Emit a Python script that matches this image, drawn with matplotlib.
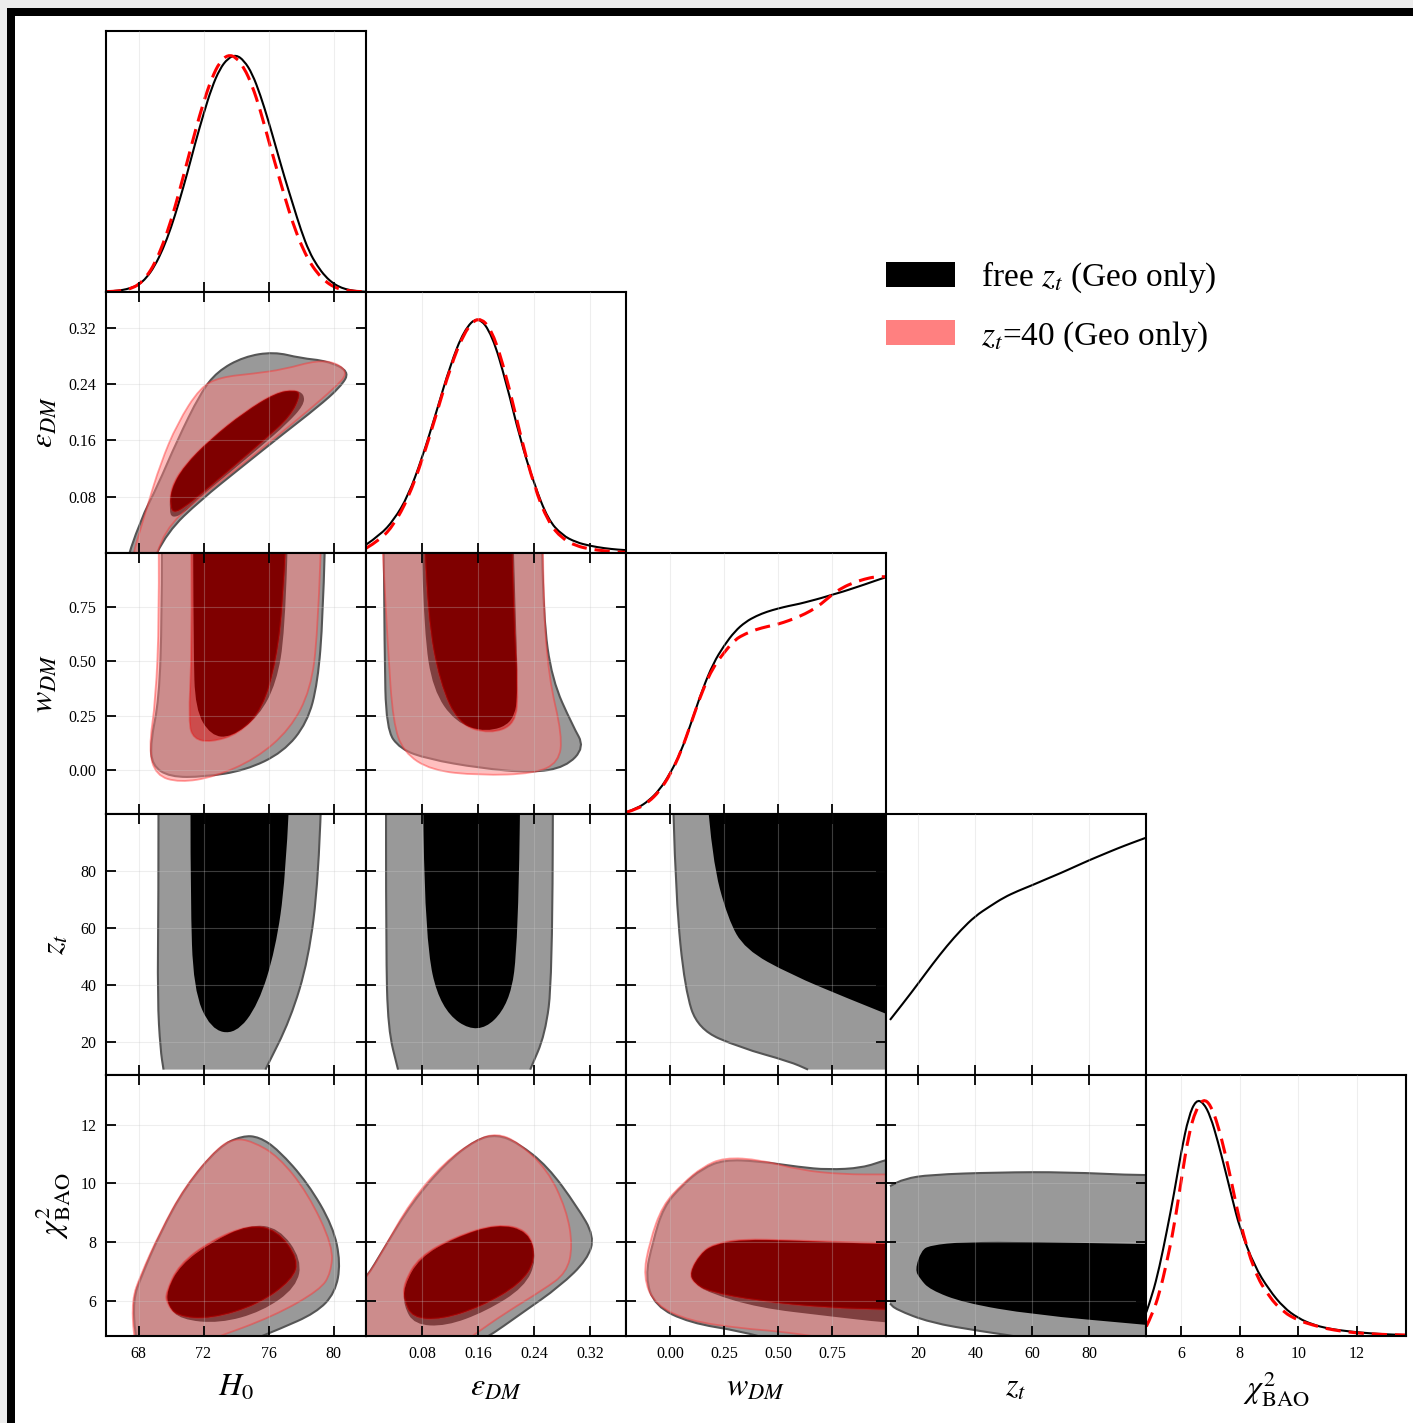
import numpy as np
import matplotlib
matplotlib.use("Agg")
import matplotlib.pyplot as plt
from matplotlib.path import Path
from matplotlib.patches import PathPatch, Patch, Rectangle

plt.rcParams['font.family'] = 'serif'
plt.rcParams['font.serif'] = ['Liberation Serif', 'DejaVu Serif']
plt.rcParams['mathtext.fontset'] = 'stix'

# parameters
labels = [r'$H_0$', r'$\varepsilon_{DM}$', r'$w_{DM}$', r'$z_t$', r'$\chi^2_{\rm BAO}$']
limits = [(66.0, 82.0), (0.0, 0.371), (-0.204, 1.0), (8.6, 100.0), (4.79, 13.69)]
ticks = [[68, 72, 76, 80], [0.08, 0.16, 0.24, 0.32], [0.0, 0.25, 0.50, 0.75],
         [20, 40, 60, 80], [6, 8, 10, 12]]
tick_fmt = ['{:.0f}', '{:.2f}', '{:.2f}', '{:.0f}', '{:.0f}']
legend_labels = [r'free $z_t$ (Geo only)', r'$z_t$=40 (Geo only)']

# 1D marginals (normalised to peak = 1)
H0_GRID = [66, 66.5, 67, 67.5, 68, 68.5, 69, 69.5, 70, 70.5, 71, 71.5, 72, 72.5, 73, 73.5, 74,
           74.5, 75, 75.5, 76, 76.5, 77, 77.5, 78, 78.5, 79, 79.5, 80, 80.5, 81, 81.5, 82]
H0_FREE = [0.002, 0.004, 0.008, 0.016, 0.03, 0.06, 0.11, 0.18, 0.27, 0.38, 0.50, 0.63, 0.75, 0.86, 0.94,
           0.985, 1.0, 0.975, 0.92, 0.83, 0.72, 0.60, 0.48, 0.37, 0.26, 0.17, 0.11, 0.065, 0.035, 0.017,
           0.008, 0.003, 0.001]
H0_FIX = [0.001, 0.003, 0.006, 0.014, 0.03, 0.065, 0.12, 0.20, 0.30, 0.42, 0.55, 0.68, 0.80, 0.90, 0.97,
          1.0, 0.99, 0.945, 0.87, 0.765, 0.64, 0.52, 0.40, 0.29, 0.20, 0.13, 0.08, 0.045, 0.022, 0.01,
          0.005, 0.002, 0.001]

EPS_GRID = [0.00, 0.02, 0.04, 0.06, 0.08, 0.10, 0.12, 0.14, 0.16, 0.18, 0.20, 0.22, 0.24, 0.26, 0.28,
            0.30, 0.32, 0.34, 0.36, 0.372]
EPS_FREE = [0.035, 0.075, 0.14, 0.24, 0.40, 0.59, 0.79, 0.94, 1.0, 0.92, 0.72, 0.48, 0.29, 0.14, 0.075,
            0.045, 0.030, 0.020, 0.014, 0.012]
EPS_FIX = [0.02, 0.055, 0.12, 0.23, 0.39, 0.58, 0.78, 0.93, 1.0, 0.94, 0.75, 0.50, 0.28, 0.13, 0.06,
           0.03, 0.016, 0.009, 0.004, 0.003]

W_GRID = [-0.20, -0.15, -0.10, -0.05, 0.00, 0.05, 0.10, 0.15, 0.20, 0.25, 0.30, 0.35, 0.40, 0.45, 0.50,
          0.55, 0.60, 0.65, 0.70, 0.75, 0.80, 0.85, 0.90, 0.95, 1.00]
W_FREE = [0.008, 0.025, 0.055, 0.10, 0.17, 0.26, 0.39, 0.525, 0.635, 0.71, 0.77, 0.81, 0.835, 0.853, 0.866,
          0.877, 0.886, 0.898, 0.91, 0.924, 0.937, 0.952, 0.967, 0.983, 0.998]
W_FIX = [0.008, 0.022, 0.05, 0.095, 0.165, 0.26, 0.39, 0.52, 0.62, 0.68, 0.735, 0.76, 0.778, 0.79, 0.80,
         0.815, 0.833, 0.855, 0.885, 0.925, 0.955, 0.975, 0.99, 1.0, 1.0]

ZT_GRID = [10, 15, 20, 25, 30, 35, 40, 45, 50, 55, 60, 65, 70, 75, 80, 85, 90, 95, 100]
ZT_FREE = [0.232, 0.308, 0.387, 0.468, 0.544, 0.612, 0.67, 0.71, 0.748, 0.776, 0.80, 0.826, 0.851,
           0.878, 0.905, 0.93, 0.955, 0.978, 1.0]

CHI_GRID = [4.8, 5.0, 5.25, 5.5, 5.75, 6.0, 6.25, 6.5, 6.75, 7.0, 7.25, 7.5, 7.75, 8.0, 8.5, 9.0, 9.5,
            10.0, 10.5, 11.0, 11.5, 12.0, 12.5, 13.0, 13.7]
CHI_FREE = [0.10, 0.17, 0.29, 0.44, 0.60, 0.78, 0.925, 0.995, 0.985, 0.925, 0.82, 0.70, 0.575, 0.455,
            0.295, 0.195, 0.12, 0.075, 0.048, 0.032, 0.023, 0.016, 0.011, 0.007, 0.004]
CHI_FIX = [0.04, 0.09, 0.18, 0.31, 0.46, 0.66, 0.85, 0.955, 1.0, 0.975, 0.89, 0.77, 0.63, 0.48,
           0.27, 0.165, 0.10, 0.066, 0.046, 0.03, 0.02, 0.013, 0.009, 0.006, 0.004]

# 2D contour outlines (68% / 95%), (x, y) in data units
H0_EPS_FREE_OUT = [(67.0, -0.03), (68.12, 0.047), (69.15, 0.094), (70.38, 0.160), (71.81, 0.227), (72.84, 0.258),
                   (74.48, 0.279), (76.33, 0.286), (77.97, 0.277), (79.61, 0.273), (81.0, 0.258), (80.43, 0.236),
                   (79.0, 0.207), (76.94, 0.170), (74.28, 0.121), (71.81, 0.075), (69.77, 0.030), (68.5, -0.03)]
H0_EPS_FREE_IN = [(69.9, 0.060), (69.98, 0.090), (70.8, 0.124), (72.43, 0.162), (74.48, 0.200), (76.45, 0.228),
                  (77.6, 0.232), (78.2, 0.226), (78.17, 0.210), (77.15, 0.184), (75.51, 0.151), (73.66, 0.115),
                  (71.81, 0.080), (70.69, 0.055), (70.07, 0.050)]
H0_EPS_FIX_OUT = [(67.3, -0.03), (68.53, 0.066), (69.35, 0.127), (70.38, 0.184), (71.81, 0.236), (73.05, 0.250),
                  (75.09, 0.255), (76.94, 0.261), (79.0, 0.274), (80.23, 0.270), (80.9, 0.255), (80.02, 0.234),
                  (78.58, 0.205), (76.53, 0.166), (74.07, 0.120), (71.61, 0.076), (69.56, 0.032), (68.8, -0.03)]
H0_EPS_FIX_IN = [(69.95, 0.066), (70.0, 0.093), (70.8, 0.124), (72.43, 0.162), (74.48, 0.200), (76.45, 0.228),
                 (77.6, 0.232), (78.0, 0.226), (77.35, 0.194), (75.71, 0.160), (73.86, 0.123), (72.02, 0.087),
                 (70.79, 0.064), (70.17, 0.057)]

H0_W_FREE_OUT = [(69.44, 1.3), (69.44, 1.3), (69.44, 0.705), (69.27, 0.324), (68.74, 0.127), (68.84, 0.020),
                 (69.91, -0.033), (72.02, -0.033), (74.57, -0.003), (76.91, 0.081), (78.39, 0.218), (79.03, 0.401),
                 (79.35, 0.705), (79.56, 1.3), (79.56, 1.3)]
H0_W_FREE_IN = [(71.35, 1.3), (71.35, 1.3), (71.39, 0.553), (71.49, 0.279), (72.45, 0.157), (73.72, 0.149),
                (75.42, 0.248), (76.49, 0.401), (77.01, 0.629), (77.29, 1.3), (77.29, 1.3)]
H0_W_FIX_OUT = [(69.22, 1.3), (69.22, 1.3), (69.27, 0.705), (69.06, 0.324), (68.63, 0.096), (69.06, -0.026),
                (70.54, -0.059), (72.66, -0.033), (75.21, 0.050), (77.33, 0.187), (78.6, 0.370), (79.03, 0.629),
                (79.35, 1.3), (79.35, 1.3)]
H0_W_FIX_IN = [(71.22, 1.3), (71.22, 1.3), (71.29, 0.553), (71.07, 0.218), (71.39, 0.142), (72.45, 0.127),
               (74.15, 0.165), (75.64, 0.279), (76.49, 0.507), (76.91, 0.782), (77.22, 1.3), (77.22, 1.3)]

EPS_W_FREE_OUT = [(0.0249, 1.3), (0.0249, 1.3), (0.0264, 0.553), (0.0289, 0.187), (0.0486, 0.096),
                  (0.088, 0.050), (0.1619, 0.008), (0.2357, -0.014), (0.285, 0.012), (0.312, 0.104),
                  (0.2949, 0.203), (0.2653, 0.416), (0.253, 0.705), (0.2496, 1.3), (0.2496, 1.3)]
EPS_W_FREE_IN = [(0.0771, 1.3), (0.0771, 1.3), (0.083, 0.629), (0.0954, 0.370), (0.1274, 0.218),
                 (0.1717, 0.172), (0.2111, 0.218), (0.217, 0.370), (0.2136, 0.705), (0.2087, 1.3), (0.2087, 1.3)]
EPS_W_FIX_OUT = [(0.019, 1.3), (0.019, 1.3), (0.0313, 0.553), (0.0387, 0.218), (0.0534, 0.081), (0.0929, -0.003),
                 (0.1619, -0.026), (0.2407, -0.018), (0.2751, 0.035), (0.2801, 0.157), (0.2604, 0.431),
                 (0.253, 0.782), (0.252, 1.3), (0.252, 1.3)]
EPS_W_FIX_IN = [(0.0806, 1.3), (0.0806, 1.3), (0.088, 0.705), (0.1053, 0.401), (0.1323, 0.210),
                (0.1767, 0.165), (0.2136, 0.210), (0.217, 0.370), (0.2111, 0.705), (0.2071, 1.3), (0.2071, 1.3)]

# contours cut by the z_t prior: the last -> first segment is the cut (no edge line there)
H0_ZT_FREE_OUT = [(75.81, 10.5), (75.81, 10.5), (77.35, 28.1), (78.46, 49.1), (79.08, 77.2), (79.38, 130),
                  (79.38, 130), (69.23, 130), (69.23, 130), (69.23, 70.2), (69.17, 35.1), (69.35, 17.5),
                  (69.54, 10.5), (69.54, 10.5)]
H0_ZT_FREE_IN = [(71.2, 130), (71.2, 130), (71.2, 70.2), (71.38, 38.6), (72.43, 24.6), (73.97, 22.8),
                 (75.38, 33.3), (76.43, 52.6), (77.05, 77.2), (77.48, 130), (77.48, 130)]

EPS_ZT_FREE_OUT = [(0.2343, 10.5), (0.2343, 10.5), (0.2557, 22.8), (0.2657, 42.1), (0.2671, 130), (0.2671, 130),
                   (0.0286, 130), (0.0286, 130), (0.0286, 52.6), (0.0314, 24.6), (0.0457, 10.5), (0.0457, 10.5)]
EPS_ZT_FREE_IN = [(0.08, 130), (0.08, 130), (0.0843, 56.1), (0.1057, 31.6), (0.16, 22.5), (0.2057, 33.3),
                  (0.2171, 56.1), (0.2214, 130), (0.2214, 130)]

W_ZT_FREE_OUT = [(1.3, 10.5), (1.3, 10.5), (1.3, 130), (1.3, 130), (0.005, 130), (0.005, 130), (0.027, 70.2),
                 (0.069, 38.6), (0.129, 24.6), (0.324, 18.2), (0.555, 13.3), (0.639, 10.5), (0.639, 10.5)]
W_ZT_FREE_IN = [(0.148, 130), (0.148, 130), (0.194, 84.2), (0.268, 63.2), (0.347, 52.6), (0.555, 43.9),
                (0.833, 35.1), (1.065, 28.1), (1.3, 20.6), (1.3, 20.6), (1.3, 130), (1.3, 130)]

H0_CHI_FREE_OUT = [(68.05, 4.4), (67.8, 4.78), (67.67, 6.03), (68.18, 6.83), (69.35, 8.31), (70.9, 9.89),
                   (72.98, 11.26), (74.4, 11.62), (75.43, 11.58), (76.6, 11.14), (78.41, 10.01), (79.97, 8.53),
                   (80.44, 7.28), (80.1, 6.26), (78.93, 5.58), (76.6, 5.01), (75.05, 4.67), (74.0, 4.4)]
H0_CHI_FREE_IN = [(69.75, 6.37), (70.6, 7.22), (72.45, 7.98), (74.79, 8.6), (76.65, 8.48), (78.05, 7.40),
                  (77.72, 6.45), (75.6, 5.62), (72.98, 5.22), (70.6, 5.35), (69.8, 5.81)]
H0_CHI_FIX_OUT = [(67.9, 4.4), (67.7, 4.78), (67.6, 6.03), (68.1, 6.83), (69.3, 8.31), (70.85, 9.89),
                  (72.85, 11.2), (73.9, 11.53), (75.0, 11.43), (76.6, 10.92), (78.41, 9.67), (79.97, 7.85),
                  (79.84, 6.94), (79.19, 6.37), (76.34, 5.47), (72.45, 4.67), (71.0, 4.4)]
H0_CHI_FIX_IN = [(69.68, 6.26), (70.47, 7.22), (72.45, 8.04), (74.79, 8.58), (76.52, 8.42), (77.87, 7.40),
                 (77.46, 6.7), (75.35, 5.86), (72.45, 5.37), (70.35, 5.46), (69.73, 5.92)]

EPS_CHI_FREE_OUT = [(-0.03, 4.4), (-0.03, 6.0), (0.0, 6.75), (0.025, 7.75), (0.066, 9.35), (0.114, 10.69),
                    (0.157, 11.49), (0.187, 11.66), (0.217, 11.37), (0.259, 10.58), (0.301, 9.21), (0.326, 8.19),
                    (0.316, 7.40), (0.277, 6.49), (0.223, 5.58), (0.169, 4.67), (0.14, 4.4)]
EPS_CHI_FREE_IN = [(0.054, 6.49), (0.076, 7.45), (0.126, 8.14), (0.187, 8.62), (0.232, 8.36), (0.244, 7.40),
                   (0.226, 6.45), (0.171, 5.63), (0.114, 5.12), (0.069, 5.18), (0.054, 5.81)]
EPS_CHI_FIX_OUT = [(-0.03, 4.4), (-0.03, 6.0), (0.0, 6.75), (0.025, 7.75), (0.063, 9.35), (0.111, 10.69),
                   (0.157, 11.49), (0.187, 11.7), (0.217, 11.4), (0.259, 10.46), (0.286, 9.10), (0.295, 7.85),
                   (0.286, 6.94), (0.253, 6.37), (0.199, 5.58), (0.151, 4.78), (0.13, 4.4)]
EPS_CHI_FIX_IN = [(0.054, 6.6), (0.076, 7.5), (0.126, 8.16), (0.187, 8.62), (0.232, 8.4), (0.243, 7.40),
                  (0.22, 6.56), (0.165, 5.8), (0.108, 5.35), (0.066, 5.41), (0.054, 6.03)]

W_CHI_FREE_OUT = [(-0.115, 6.8), (-0.08, 8.0), (-0.03, 9.2), (0.06, 9.95), (0.15, 10.5), (0.25, 10.8),
                  (0.41, 10.75), (0.6, 10.55), (0.73, 10.46), (0.89, 10.52), (1.0, 10.8), (1.3, 11.4),
                  (1.3, 11.4), (1.3, 3.0), (1.3, 3.0), (0.5, 4.6), (0.33, 4.95), (0.09, 5.24), (-0.07, 5.81)]
W_CHI_FREE_IN = [(0.09, 6.95), (0.14, 7.6), (0.2, 7.9), (0.33, 8.08), (0.57, 8.05), (1.0, 7.91), (1.3, 7.9),
                 (1.3, 7.9), (1.3, 5.1), (1.3, 5.1), (1.0, 5.24), (0.73, 5.47), (0.41, 5.75), (0.18, 6.26),
                 (0.11, 6.6)]
W_CHI_FIX_OUT = [(-0.125, 6.8), (-0.095, 8.0), (-0.035, 9.25), (0.06, 10.0), (0.15, 10.55), (0.25, 10.88),
                 (0.42, 10.8), (0.6, 10.45), (0.8, 10.3), (1.0, 10.3), (1.3, 10.3), (1.3, 10.3), (1.3, 4.0),
                 (1.3, 4.0), (0.7, 4.75), (0.5, 4.95), (0.33, 5.05), (0.09, 5.3), (-0.07, 5.85)]
W_CHI_FIX_IN = [(0.09, 6.95), (0.14, 7.6), (0.2, 7.92), (0.33, 8.1), (0.57, 8.05), (1.0, 7.95), (1.3, 7.95),
                (1.3, 7.95), (1.3, 5.65), (1.3, 5.65), (1.0, 5.69), (0.73, 5.75), (0.41, 5.98), (0.18, 6.3),
                (0.11, 6.6)]

ZT_CHI_FREE_OUT = [(10.0, 9.9), (10.0, 9.9), (15, 10.15), (24, 10.29), (48, 10.37), (72, 10.38), (99, 10.26),
                   (130, 10.26), (130, 10.26), (130, 3.0), (130, 3.0), (60, 4.7), (42, 4.95), (24, 5.25),
                   (12, 5.7), (10.0, 5.9), (10.0, 5.9)]
ZT_CHI_FREE_IN = [(18.8, 7.05), (21, 7.7), (24, 7.88), (36, 8.0), (60, 8.0), (99, 7.92), (130, 7.9),
                  (130, 7.9), (130, 4.9), (130, 4.9), (99, 5.18), (60, 5.52), (36, 5.92), (24, 6.37), (20.5, 6.75)]

marginals = {
    0: (H0_GRID, H0_FREE, H0_FIX),
    1: (EPS_GRID, EPS_FREE, EPS_FIX),
    2: (W_GRID, W_FREE, W_FIX),
    3: (ZT_GRID, ZT_FREE, None),
    4: (CHI_GRID, CHI_FREE, CHI_FIX),
}
contours = {
    (0, 1): (H0_EPS_FREE_OUT, H0_EPS_FREE_IN, H0_EPS_FIX_OUT, H0_EPS_FIX_IN),
    (0, 2): (H0_W_FREE_OUT, H0_W_FREE_IN, H0_W_FIX_OUT, H0_W_FIX_IN),
    (1, 2): (EPS_W_FREE_OUT, EPS_W_FREE_IN, EPS_W_FIX_OUT, EPS_W_FIX_IN),
    (0, 3): (H0_ZT_FREE_OUT, H0_ZT_FREE_IN, None, None),
    (1, 3): (EPS_ZT_FREE_OUT, EPS_ZT_FREE_IN, None, None),
    (2, 3): (W_ZT_FREE_OUT, W_ZT_FREE_IN, None, None),
    (0, 4): (H0_CHI_FREE_OUT, H0_CHI_FREE_IN, H0_CHI_FIX_OUT, H0_CHI_FIX_IN),
    (1, 4): (EPS_CHI_FREE_OUT, EPS_CHI_FREE_IN, EPS_CHI_FIX_OUT, EPS_CHI_FIX_IN),
    (2, 4): (W_CHI_FREE_OUT, W_CHI_FREE_IN, W_CHI_FIX_OUT, W_CHI_FIX_IN),
    (3, 4): (ZT_CHI_FREE_OUT, ZT_CHI_FREE_IN, None, None),
}
prior_cut = {(0, 3), (1, 3), (2, 3), (3, 4)}


def closed_path(pts):
    # smooth closed outline (quadratic b-spline on the traced points)
    p = np.asarray(pts, float)
    m = (p + np.roll(p, -1, axis=0)) / 2
    verts = [m[-1]]
    codes = [Path.MOVETO]
    for i in range(len(p)):
        verts += [p[i], m[i]]
        codes += [Path.CURVE3, Path.CURVE3]
    verts.append(m[-1])
    codes.append(Path.CLOSEPOLY)
    return Path(verts, codes)


def open_path(x, y):
    p = np.column_stack([x, y]).astype(float)
    verts = [p[0]]
    codes = [Path.MOVETO]
    for i in range(1, len(p) - 1):
        verts += [p[i], (p[i] + p[i + 1]) / 2]
        codes += [Path.CURVE3, Path.CURVE3]
    verts.append(p[-1])
    codes.append(Path.LINETO)
    return Path(verts, codes)


def area(pts):
    p = np.asarray(pts, float)
    return np.sum(p[:, 0] * np.roll(p[:, 1], -1) - np.roll(p[:, 0], -1) * p[:, 1])


def annulus(outer, inner):
    if np.sign(area(outer)) == np.sign(area(inner)):
        inner = inner[::-1]
    return Path.make_compound_path(closed_path(outer), closed_path(inner))


W, H = 1413, 1423
fig = plt.figure(figsize=(W / 100, H / 100), dpi=100)

# screenshot frame
for (x0, y0, w0, h0, c) in [(0, H - 8, W, 8, '#ececec'), (0, 0, 7, H, '#ececec'),
                            (7, H - 16, W - 7, 8, 'black'), (7, 0, 8, H - 8, 'black')]:
    fig.patches.append(Rectangle((x0 / W, y0 / H), w0 / W, h0 / H, transform=fig.transFigure,
                                 facecolor=c, edgecolor='none', zorder=-1))

ylab_x = {1: -0.235, 2: -0.235, 3: -0.19, 4: -0.205}

for row in range(5):
    for col in range(row + 1):
        ax = fig.add_axes([(106 + 260 * col) / W, 1 - (31 + 261 * (row + 1)) / H, 260 / W, 261 / H])
        ax.set_xlim(limits[col])
        ax.set_xticks(ticks[col])
        ax.set_xticklabels([tick_fmt[col].format(t) for t in ticks[col]])
        diag = row == col
        if diag:
            ax.set_ylim(0, 1.1)
            ax.set_yticks([])
            x, yf, yc = marginals[col]
            ax.add_patch(PathPatch(open_path(x, yf), fill=False, edgecolor='black', lw=1.5, zorder=2))
            if yc is not None:
                ax.add_patch(PathPatch(open_path(x, yc), fill=False, edgecolor='#FF0000', lw=2.2,
                                       linestyle=(0, (5, 2.6)), zorder=2.1))
        else:
            ax.set_ylim(limits[row])
            ax.set_yticks(ticks[row])
            ax.set_yticklabels([tick_fmt[row].format(t) for t in ticks[row]])
            fo, fi, xo, xi = contours[(col, row)]
            ax.add_patch(PathPatch(closed_path(fo), facecolor='#999999', edgecolor='none', zorder=1.0))
            if (col, row) in prior_cut:
                fo_arr = np.asarray(fo)
                edge = open_path(fo_arr[:, 0], fo_arr[:, 1])
            else:
                edge = closed_path(fo)
            ax.add_patch(PathPatch(edge, fill=False, edgecolor='#555555', lw=1.5, zorder=1.05))
            ax.add_patch(PathPatch(closed_path(fi), facecolor='black', edgecolor='none', zorder=1.1))
            if xo is not None:
                ax.add_patch(PathPatch(annulus(xo, xi), facecolor='#FF8080', alpha=0.5, edgecolor='none', zorder=1.2))
                ax.add_patch(PathPatch(closed_path(xi), facecolor='#FF0000', alpha=0.5, edgecolor='none', zorder=1.3))
                ax.add_patch(PathPatch(closed_path(xo), fill=False, edgecolor='#FF3030', alpha=0.45, lw=1.3, zorder=1.4))
                ax.add_patch(PathPatch(closed_path(xi), fill=False, edgecolor='#FF0000', alpha=0.3, lw=1.3, zorder=1.4))

        ax.tick_params(direction='in', length=7, width=1.3, labelsize=11.5, pad=7,
                       bottom=True, top=not diag, left=not diag, right=not diag,
                       labelbottom=(row == 4), labelleft=(col == 0 and row > 0))
        for s in ax.spines.values():
            s.set_linewidth(1.5)
        ax.grid(True, axis='x' if diag else 'both', color='#c8c8c8', alpha=0.3, lw=0.8)
        ax.set_axisbelow(False)

        if row == 4:
            ax.set_xlabel(labels[col], fontsize=23, va='center')
            ax.xaxis.set_label_coords(0.5, -0.2)
        if col == 0 and row > 0:
            ax.set_ylabel(labels[row], fontsize=23, va='center')
            ax.yaxis.set_label_coords(ylab_x[row], 0.5)

handles = [Patch(facecolor='black', edgecolor='none'), Patch(facecolor='#FF8080', edgecolor='none')]
fig.legend(handles, legend_labels, loc='upper left', bbox_to_anchor=(886 / W, 1 - 260 / H),
           frameon=False, fontsize=24, handlelength=2.07, handleheight=0.78, handletextpad=0.78,
           labelspacing=0.71, borderpad=0, borderaxespad=0)

fig.savefig('out.png', dpi=100)
